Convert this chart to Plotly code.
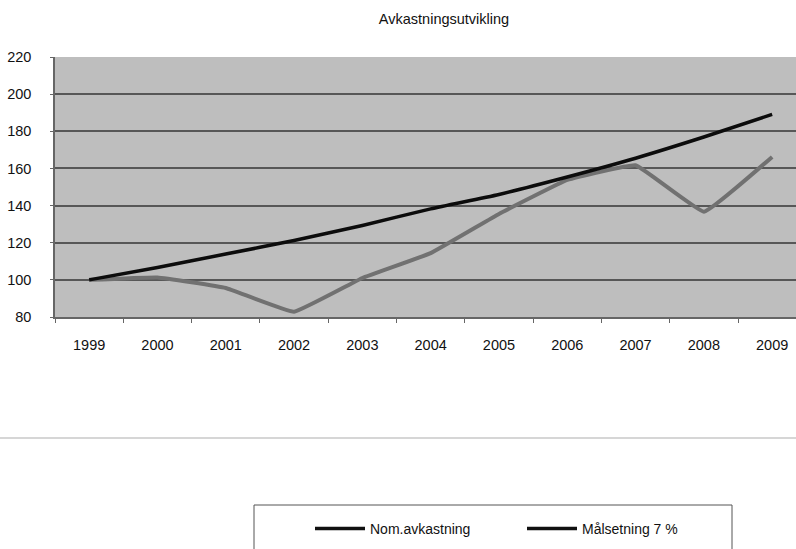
import plotly.graph_objects as go

# Årlig indeksert utvikling (1999 = 100)
years = ["1999", "2000", "2001", "2002", "2003", "2004", "2005", "2006", "2007", "2008", "2009"]
nom_avkastning = [100, 101.3, 95.6, 82.8, 101, 114.4, 135.5, 153.8, 161.7, 136.7, 166.2]
malsetning = [100, 106.7, 113.9, 121.2, 129.3, 138.2, 146, 155.4, 165.5, 176.9, 189.1]

series_names = ["Nom.avkastning", "Målsetning 7 %"]
title_text = "Avkastningsutvikling"
y_ticks = [80, 100, 120, 140, 160, 180, 200, 220]

W, H = 796, 549
ML, MR, MT, MB = 55, 0, 57, 232
plot_w = W - ML - MR
plot_h = H - MT - MB


def px_x(px):
    """page x pixel -> paper coordinate"""
    return (px - ML) / plot_w


def px_y(py):
    """page y pixel -> paper coordinate"""
    return (H - MB - py) / plot_h


fig = go.Figure()

fig.add_trace(go.Scatter(
    x=years, y=nom_avkastning, mode="lines", name=series_names[0],
    line=dict(color="#717171", width=4, shape="spline", smoothing=0.25),
    showlegend=False, legendgroup="nom",
))
fig.add_trace(go.Scatter(
    x=years, y=malsetning, mode="lines", name=series_names[1],
    line=dict(color="#0c0c0c", width=3.5, shape="spline", smoothing=0.6),
    showlegend=False, legendgroup="mal",
))

# legend entries (drawn in black, as in the printed key)
for name, grp in zip(series_names, ["nom", "mal"]):
    fig.add_trace(go.Scatter(
        x=[None], y=[None], mode="lines", name=name, legendgroup=grp,
        line=dict(color="#111111", width=3.5),
    ))

cat_px = 68.3
x_right = -0.5 + plot_w / cat_px

fig.update_layout(
    width=W, height=H,
    margin=dict(l=ML, r=MR, t=MT, b=MB),
    paper_bgcolor="white",
    plot_bgcolor="#bebebe",
    font=dict(family="Arial, Liberation Sans, sans-serif", size=14, color="#111111"),
    title=dict(
        text=title_text, x=444 / W, xanchor="center", y=1 - 19 / H, yanchor="middle",
        font=dict(size=14.5, color="#111111"),
    ),
    xaxis=dict(
        type="category", categoryorder="array", categoryarray=years,
        range=[-0.5, x_right],
        showgrid=False, zeroline=False,
        showline=True, linecolor="#666666", linewidth=1.5,
        ticks="outside", tickson="boundaries", ticklen=4, tickcolor="#666666",
        ticklabelstandoff=14,
        tickfont=dict(size=14.5),
    ),
    yaxis=dict(
        range=[80, 220], tickvals=y_ticks,
        showgrid=True, gridcolor="#575757", gridwidth=1.5,
        zeroline=False,
        showline=True, linecolor="#666666", linewidth=1.5,
        ticks="outside", ticklen=3, tickcolor="#666666",
        ticklabelstandoff=16,
        tickfont=dict(size=14.5),
    ),
    legend=dict(
        orientation="h",
        x=px_x(310), xanchor="left",
        y=px_y(529), yanchor="middle",
        bgcolor="rgba(0,0,0,0)",
        font=dict(family="Liberation Sans Narrow, Arial Narrow, Arial, sans-serif", size=14, color="#111111"),
        itemwidth=50,
        entrywidth=147,
        traceorder="normal",
    ),
    shapes=[
        # light separator line
        dict(type="line", xref="paper", yref="paper",
             x0=px_x(0), x1=1, y0=px_y(438), y1=px_y(438),
             line=dict(color="#d6d6d6", width=2)),
        # legend frame, open at the bottom edge of the page
        dict(type="rect", xref="paper", yref="paper",
             x0=px_x(254), x1=px_x(732), y0=px_y(560), y1=px_y(505),
             line=dict(color="#555555", width=1), fillcolor="rgba(0,0,0,0)"),
    ],
)

fig.write_html("out.html")
